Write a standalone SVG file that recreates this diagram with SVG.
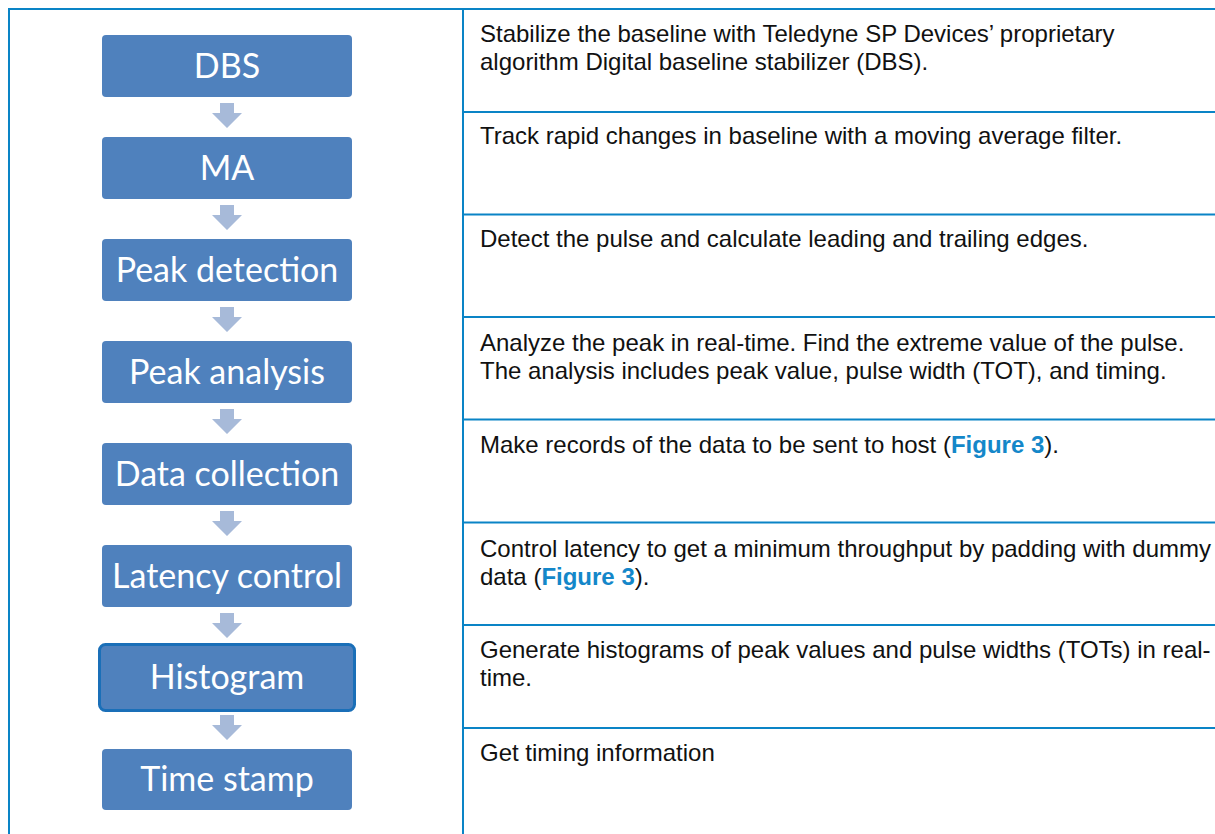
<svg xmlns="http://www.w3.org/2000/svg" width="1215" height="834" viewBox="0 0 1215 834">
<style>
.frame{stroke:#0a84c6;stroke-width:2;fill:none}
.box{fill:#4f81bd}
.sel{fill:#4f81bd;stroke:#1a6fb8;stroke-width:3}
.lbl{font-family:Lato,"Open Sans",sans-serif;font-size:34px;fill:#ffffff;text-anchor:middle}
.arr{fill:#a7bad9}
.desc{font-family:"Liberation Sans",Arial,sans-serif;font-size:24px;fill:#111111}
.link{fill:#1487c9;font-weight:bold}
</style>
<rect width="1215" height="834" fill="#ffffff"/>
<g id="frame">
<line class="frame" x1="9" y1="9" x2="1215" y2="9"/>
<line class="frame" x1="9" y1="8" x2="9" y2="834"/>
<line class="frame" x1="463" y1="8" x2="463" y2="834"/>
<line class="frame" x1="463" y1="112" x2="1215" y2="112"/>
<line class="frame" x1="463" y1="214.5" x2="1215" y2="214.5"/>
<line class="frame" x1="463" y1="317" x2="1215" y2="317"/>
<line class="frame" x1="463" y1="419.5" x2="1215" y2="419.5"/>
<line class="frame" x1="463" y1="522.5" x2="1215" y2="522.5"/>
<line class="frame" x1="463" y1="625" x2="1215" y2="625"/>
<line class="frame" x1="463" y1="728" x2="1215" y2="728"/>
</g>
<g id="connectors">
<path class="arr" d="M220,103 h14 v10 h8 l-15,15 l-15,-15 h8 z"/>
<path class="arr" d="M220,205 h14 v10 h8 l-15,15 l-15,-15 h8 z"/>
<path class="arr" d="M220,307 h14 v10 h8 l-15,15 l-15,-15 h8 z"/>
<path class="arr" d="M220,409 h14 v10 h8 l-15,15 l-15,-15 h8 z"/>
<path class="arr" d="M220,511 h14 v10 h8 l-15,15 l-15,-15 h8 z"/>
<path class="arr" d="M220,613 h14 v10 h8 l-15,15 l-15,-15 h8 z"/>
<path class="arr" d="M220,715 h14 v10 h8 l-15,15 l-15,-15 h8 z"/>
</g>
<g id="n-dbs"><rect class="box" x="102" y="35" width="250" height="62" rx="4"/><text class="lbl" x="227" y="78">DBS</text></g>
<g id="n-ma"><rect class="box" x="102" y="137" width="250" height="62" rx="4"/><text class="lbl" x="227" y="180">MA</text></g>
<g id="n-peakdet"><rect class="box" x="102" y="239" width="250" height="62" rx="4"/><text class="lbl" x="227" y="282">Peak detection</text></g>
<g id="n-peakan"><rect class="box" x="102" y="341" width="250" height="62" rx="4"/><text class="lbl" x="227" y="384">Peak analysis</text></g>
<g id="n-datacol"><rect class="box" x="102" y="443" width="250" height="62" rx="4"/><text class="lbl" x="227" y="486">Data collection</text></g>
<g id="n-latency"><rect class="box" x="102" y="545" width="250" height="62" rx="4"/><text class="lbl" x="227" y="588">Latency control</text></g>
<g id="n-hist"><rect class="sel" x="99.5" y="644.5" width="255" height="66" rx="6"/><text class="lbl" x="227" y="689">Histogram</text></g>
<g id="n-time"><rect class="box" x="102" y="749" width="250" height="61" rx="4"/><text class="lbl" x="227" y="791">Time stamp</text></g>
<g id="descriptions">
<text class="desc" x="480" y="42">Stabilize the baseline with Teledyne SP Devices’ proprietary</text>
<text class="desc" x="480" y="70">algorithm Digital baseline stabilizer (DBS).</text>
<text class="desc" x="480" y="144">Track rapid changes in baseline with a moving average filter.</text>
<text class="desc" x="480" y="247">Detect the pulse and calculate leading and trailing edges.</text>
<text class="desc" x="480" y="351">Analyze the peak in real-time. Find the extreme value of the pulse.</text>
<text class="desc" x="480" y="379">The analysis includes peak value, pulse width (TOT), and timing.</text>
<text class="desc" x="480" y="453">Make records of the data to be sent to host (<tspan class="link">Figure 3</tspan>).</text>
<text class="desc" x="480" y="557">Control latency to get a minimum throughput by padding with dummy</text>
<text class="desc" x="480" y="585">data (<tspan class="link">Figure 3</tspan>).</text>
<text class="desc" x="480" y="658">Generate histograms of peak values and pulse widths (TOTs) in real-</text>
<text class="desc" x="480" y="686">time.</text>
<text class="desc" x="480" y="761">Get timing information</text>
</g>
</svg>
